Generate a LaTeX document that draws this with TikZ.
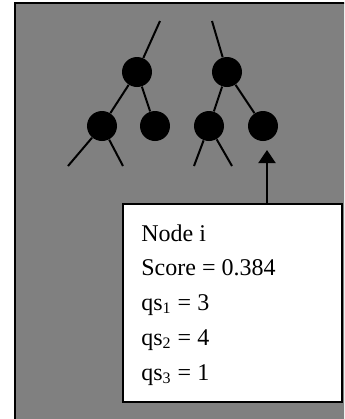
\documentclass[tikz,border=0pt]{standalone}
\usepackage{fontspec}
\setmainfont{Liberation Serif}
\usetikzlibrary{arrows.meta}

\begin{document}
\begin{tikzpicture}[x=0.5pt,y=-0.5pt]
            \tikzstyle{vertex}=[circle,fill=black,minimum size=15pt,inner sep=0pt]
            \tikzstyle{edge}=[line width=1pt]
            \tikzstyle{line}=[anchor=west,inner sep=0pt,font=\fontsize{12}{14}\selectfont]
            \clip (0,0) rectangle (344,419);
            \fill[white] (0,0) rectangle (344,419);
            \draw[line width=1pt,fill=gray] (15,3) rectangle (360,440);
            % two little trees
            \node[vertex] (ra) at (137,72) {};
            \node[vertex] (rb) at (227,72) {};
            \node[vertex] (a1) at (102,126) {};
            \node[vertex] (a2) at (155,126) {};
            \node[vertex] (b1) at (209,126) {};
            \node[vertex] (b2) at (263,126) {};
            \coordinate (ta) at (160,21);
            \coordinate (tb) at (212,21);
            \coordinate (l1) at (68,166);
            \coordinate (l2) at (123,166);
            \coordinate (l3) at (194,166);
            \coordinate (l4) at (232,166);
            \draw[edge] (ta) -- (ra) -- (a1) -- (l1);
            \draw[edge] (ra) -- (a2);
            \draw[edge] (a1) -- (l2);
            \draw[edge] (tb) -- (rb) -- (b1) -- (l3);
            \draw[edge] (rb) -- (b2);
            \draw[edge] (b1) -- (l4);
            % info box
            \node[draw,fill=white,line width=1pt,anchor=north west,minimum width=109.5pt,minimum height=99pt] (info) at (122,203) {};
            \node[line] (t1) at (141,233) {Node i};
            \node[line] (t2) at (141,268) {Score = 0.384};
            \node[line] (t3) at (141,305) {qs\textsubscript{1} = 3};
            \node[line] (t4) at (141,340) {qs\textsubscript{2} = 4};
            \node[line] (t5) at (141,375) {qs\textsubscript{3} = 1};
            \coordinate (tip) at (267,150);
            \draw[edge,-{Triangle[length=6.5pt,width=8.5pt]}] (tip |- info.north) -- (tip);
\end{tikzpicture}
\end{document}
